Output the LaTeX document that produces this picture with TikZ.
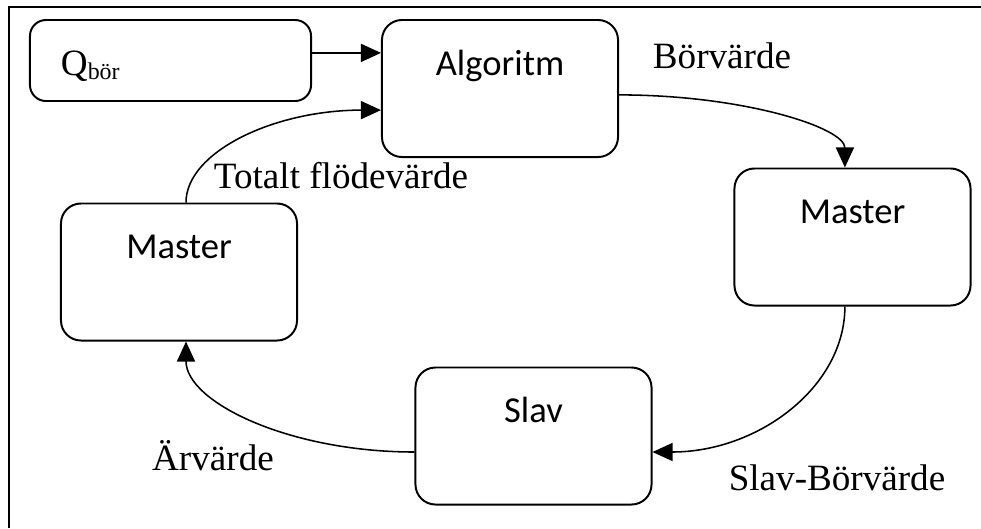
\documentclass[tikz,border=0pt]{standalone}
\usepackage{fontspec}
\setmainfont{Liberation Serif}
\newfontfamily\boxfont{Carlito}
\usetikzlibrary{arrows.meta}

\begin{document}
\begin{tikzpicture}[
    x=0.025cm, y=-0.025cm,
    box/.style={
        rectangle,
        rounded corners=0.5cm,
        minimum width=5.9cm,
        minimum height=3.425cm,
        draw=black,
        line width=1.4pt
    },
    boxtext/.style={
        anchor=base,
        font=\boxfont\fontsize{26}{31}\selectfont
    },
    lbl/.style={
        anchor=base,
        font=\fontsize{26.4}{31}\selectfont
    },
    arr/.style={
        -{Triangle[length=0.5cm,width=0.45cm]},
        line width=1.1pt
    }
]
\useasboundingbox (0,0) rectangle (981,528);

% Frame
\draw[line width=1.4pt] (9,528) -- (9,7) -- (981,7);

% Boxes
\node[box, rounded corners=0.4cm, minimum width=7.025cm, minimum height=2.025cm] (qbor) at (170.5,60.5) {};
\node[box] (alg) at (500,88.5) {};
\node[box] (mleft) at (179,272) {};
\node[box] (mright) at (852.5,237) {};
\node[box] (slav) at (533.5,436) {};

% Box texts
\node[lbl, anchor=base west] (qtext) at (56,75) {Q\raisebox{-0.1cm}{\fontsize{17}{20}\selectfont bör}};
\node[boxtext] (algtext) at ([yshift=-1.4cm]alg.north) {Algoritm};
\node[boxtext] (mlefttext) at ([yshift=-1.4cm]mleft.north) {Master};
\node[boxtext] (mrighttext) at ([yshift=-1.4cm]mright.north) {Master};
\node[boxtext] (slavtext) at ([yshift=-1.4cm]slav.north) {Slav};

% Labels
\node[lbl] (borlbl) at (722,68) {Börvärde};
\node[lbl] (totlbl) at (341,188) {Totalt flödevärde};
\node[lbl] (arlbl) at (213,470) {Ärvärde};
\node[lbl] (slavlbl) at (837,490) {Slav-Börvärde};

% Arrows
\draw[arr] ([yshift=0.19cm]qbor.east) -- ([yshift=0.19cm]qbor.east -| alg.west);
\draw[arr] ([xshift=0.175cm]mleft.north) to[out=90, in=180, out looseness=0.6, in looseness=1.27] ([yshift=-0.54cm]alg.west);
\draw[arr] ([yshift=-0.16cm]alg.east) to[out=0, in=90, out looseness=1.34, in looseness=0.43] ([xshift=-0.19cm]mright.north);
\draw[arr] ([xshift=-0.19cm]mright.south) to[out=-90, in=0, out looseness=0.85, in looseness=1.12] ([yshift=-0.4cm]slav.east);
\draw[arr] ([yshift=-0.4cm]slav.west) to[out=180, in=-90, out looseness=1.27, in looseness=0.61] ([xshift=0.175cm]mleft.south);

\end{tikzpicture}
\end{document}
